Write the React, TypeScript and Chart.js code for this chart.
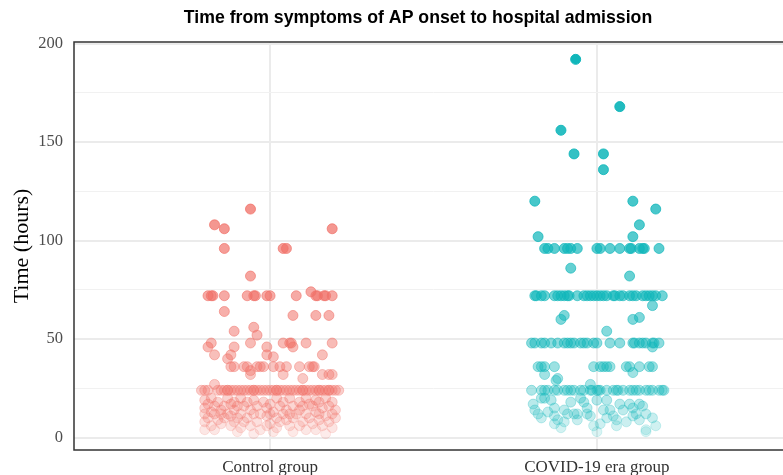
import React, { useEffect, useRef } from 'react';
import { Chart, registerables } from 'chart.js';

Chart.register(...registerables);

const titleText = 'Time from symptoms of AP onset to hospital admission';
const yAxisTitle = 'Time (hours)';
const categories = ['Control group', 'COVID-19 era group'];
const yTickValues = [0, 25, 50, 75, 100, 125, 150, 175, 200];

// Control group: time values (hours) and the horizontal jitter of each point at that value
const controlTime = [116, 108, 106, 96, 82, 74, 72, 64, 62, 56, 54, 52, 48, 46, 42, 41, 40, 36, 34, 32, 30, 27, 24,
  20, 19, 18, 17, 16, 15, 14, 13, 12, 11, 10, 9, 8, 7, 6, 5, 4, 3, 2];
const controlJitter = [
  [-0.06],
  [-0.17],
  [-0.14, 0.19],
  [-0.14, 0.04, 0.05],
  [-0.06],
  [0.125],
  [-0.19, -0.18, -0.175, -0.14, -0.07, -0.05, -0.045, -0.01, 0.0, 0.08, 0.14, 0.145, 0.165, 0.17, 0.19],
  [-0.14],
  [0.07, 0.14, 0.18],
  [-0.05],
  [-0.11],
  [-0.04],
  [-0.18, -0.06, 0.04, 0.06, 0.065, 0.11, 0.19],
  [-0.19, -0.11, -0.01, 0.07],
  [-0.17, -0.12, -0.01, 0.16],
  [0.01],
  [-0.13],
  [-0.12, -0.11, -0.08, -0.07, -0.04, -0.03, -0.02, 0.01, 0.03, 0.05, 0.09, 0.12, 0.13, 0.135],
  [-0.06],
  [-0.06, 0.04, 0.16, 0.18, 0.19],
  [0.1],
  [-0.17],
  [-0.21, -0.2, -0.19, -0.16, -0.15, -0.14, -0.13, -0.13, -0.12, -0.11, -0.1, -0.09, -0.08, -0.07, -0.06, -0.05, -0.05,
    -0.04, -0.03, -0.02, -0.01, 0.0, 0.01, 0.02, 0.02, 0.03, 0.04, 0.05, 0.06, 0.07, 0.08, 0.09, 0.1, 0.1, 0.11, 0.12,
    0.13, 0.14, 0.15, 0.15, 0.16, 0.17, 0.18, 0.18, 0.19, 0.2, 0.21],
  [-0.18, -0.09, 0.02, 0.11, 0.17, -0.13, 0.06],
  [-0.2, -0.05, 0.14],
  [-0.16, -0.11, -0.02, 0.04, 0.09, 0.15, 0.19, -0.07],
  [-0.19, -0.12, 0.0, 0.12],
  [-0.17, -0.14, -0.08, -0.04, 0.03, 0.07, 0.13, 0.18, -0.1, 0.1],
  [-0.2, -0.01, 0.16],
  [-0.15, -0.06, 0.05, 0.09, 0.2, -0.11],
  [-0.18, 0.01, 0.14],
  [-0.2, -0.17, -0.13, -0.09, -0.05, -0.03, 0.0, 0.04, 0.08, 0.11, 0.15, 0.19, -0.15, 0.06],
  [-0.12, 0.17, -0.01],
  [-0.19, -0.14, -0.07, 0.02, 0.07, 0.12, 0.2, -0.1],
  [-0.16, 0.05, 0.15],
  [-0.2, -0.11, -0.04, 0.03, 0.1, 0.18, -0.08],
  [-0.15, 0.0, 0.13],
  [-0.18, -0.12, -0.06, 0.06, 0.09, 0.16, -0.01],
  [-0.09, 0.02, 0.19],
  [-0.17, -0.03, 0.11, 0.14, -0.2],
  [-0.1, 0.07, 0.01],
  [-0.05, 0.17],
];

// COVID-19 era group
const covidTime = [192, 168, 156, 144, 136, 120, 116, 108, 102, 96, 86, 82, 72, 67, 62, 61, 60, 54, 48, 46, 36, 33, 32,
  30, 29, 27, 24, 20, 19, 18, 17, 16, 15, 14, 13, 12, 11, 10, 9, 8, 7, 6, 5, 4, 3];
const covidJitter = [
  [-0.065],
  [0.07],
  [-0.11],
  [-0.07, 0.02],
  [0.02],
  [-0.19, 0.11],
  [0.18],
  [0.13],
  [-0.18, 0.11],
  [-0.16, -0.15, -0.13, -0.1, -0.09, -0.08, -0.06, 0.0, 0.01, 0.04, 0.07, 0.1, 0.105, 0.13, 0.14, 0.145, 0.19],
  [-0.08],
  [0.1],
  [-0.19, -0.185, -0.17, -0.16, -0.13, -0.12, -0.11, -0.1, -0.09, -0.085, -0.06, -0.04, -0.03, -0.02, -0.01, 0.0,
    0.01, 0.02, 0.03, 0.05, 0.055, 0.07, 0.08, 0.1, 0.11, 0.12, 0.14, 0.15, 0.16, 0.17, 0.18, 0.2],
  [0.17],
  [-0.1],
  [0.13],
  [-0.11, 0.11],
  [0.03],
  [-0.2, -0.19, -0.17, -0.16, -0.14, -0.12, -0.1, -0.09, -0.08, -0.07, -0.05, -0.04, -0.03, -0.01, 0.0, 0.04, 0.07,
    0.11, 0.115, 0.13, 0.14, 0.15, 0.17, 0.175, 0.19],
  [0.17],
  [-0.18, -0.17, -0.16, -0.13, -0.01, 0.01, 0.02, 0.03, 0.04, 0.09, 0.1, 0.13, 0.16, 0.17],
  [0.11],
  [-0.16],
  [-0.12],
  [-0.125],
  [-0.02],
  [-0.2, -0.17, -0.16, -0.15, -0.13, -0.12, -0.1, -0.09, -0.08, -0.07, -0.05, -0.04, -0.02, -0.015, 0.0, 0.005, 0.01,
    0.03, 0.05, 0.06, 0.065, 0.08, 0.1, 0.11, 0.12, 0.13, 0.15, 0.16, 0.17, 0.19, 0.2, 0.205],
  [-0.17, -0.05, -0.16],
  [-0.14, 0.0, 0.03],
  [-0.08, -0.04],
  [-0.195, 0.07, 0.1, 0.13],
  [0.14],
  [-0.13, -0.03, 0.11],
  [-0.1, 0.02, 0.04, 0.08, -0.19],
  [-0.15],
  [-0.18, -0.06, 0.15, -0.09, -0.07, -0.03, 0.12],
  [-0.13, 0.05, -0.02, 0.11],
  [-0.17, 0.17, 0.03],
  [-0.12, -0.06, 0.06, 0.13],
  [-0.1, 0.09],
  [0.01, -0.13],
  [-0.01, 0.06, 0.18],
  [-0.11],
  [0.15],
  [0.0, 0.15],
];

const controlRGB = [240, 112, 103];
const covidRGB = [16, 182, 186];

function buildPoints(times: number[], jitters: number[][], catIndex: number) {
  const pts: { x: number; y: number }[] = [];
  times.forEach((t, i) => {
    jitters[i].forEach((j) => pts.push({ x: catIndex + j, y: t }));
  });
  return pts;
}

function alphaFor(y: number) {
  return Math.min(1, 0.08 + 0.92 * Math.pow(Math.max(0, y) / 192, 0.6));
}

function colorFn(rgb: number[]) {
  return (ctx: any) => {
    const y = ctx.raw ? ctx.raw.y : 0;
    return `rgba(${rgb[0]},${rgb[1]},${rgb[2]},${alphaFor(y).toFixed(3)})`;
  };
}

const panelBorder = {
  id: 'panelBorder',
  afterDraw(chart: any) {
    const { ctx, chartArea } = chart;
    ctx.save();
    ctx.strokeStyle = '#333333';
    ctx.lineWidth = 1.5;
    ctx.strokeRect(chartArea.left, chartArea.top, chartArea.right - chartArea.left, chartArea.bottom - chartArea.top);
    ctx.restore();
  },
};

const titleDrawer = {
  id: 'titleDrawer',
  afterDraw(chart: any) {
    const { ctx } = chart;
    ctx.save();
    ctx.fillStyle = '#000000';
    ctx.font = 'bold 17.7px "Liberation Sans", Arial, sans-serif';
    ctx.textAlign = 'center';
    ctx.textBaseline = 'middle';
    ctx.fillText(titleText, chart.width / 2, 18);
    ctx.restore();
  },
};

export default function App() {
  const canvasRef = useRef<HTMLCanvasElement | null>(null);

  useEffect(() => {
    if (!canvasRef.current) return;
    const chart = new Chart(canvasRef.current, {
      type: 'scatter',
      data: {
        datasets: [
          {
            label: categories[0],
            data: buildPoints(controlTime, controlJitter, 1),
            backgroundColor: colorFn(controlRGB),
            borderColor: colorFn(controlRGB),
            borderWidth: 1,
            pointRadius: 5,
          },
          {
            label: categories[1],
            data: buildPoints(covidTime, covidJitter, 2),
            backgroundColor: colorFn(covidRGB),
            borderColor: colorFn(covidRGB),
            borderWidth: 1,
            pointRadius: 5,
          },
        ],
      },
      options: {
        animation: false,
        responsive: false,
        maintainAspectRatio: false,
        layout: { padding: { left: 0, right: 43, top: 42, bottom: 0 } },
        plugins: {
          legend: { display: false },
          tooltip: { enabled: false },
          title: { display: false },
        },
        scales: {
          x: {
            type: 'linear',
            min: 0.4,
            max: 2.6,
            afterBuildTicks: (s: any) => {
              s.ticks = [{ value: 1 }, { value: 2 }];
            },
            afterFit: (s: any) => {
              s.height = 25;
            },
            ticks: {
              autoSkip: false,
              maxRotation: 0,
              padding: 7,
              color: '#333333',
              font: { family: '"Liberation Serif", "Times New Roman", serif', size: 17 },
              callback: (v: any) => categories[Math.round(Number(v)) - 1] ?? '',
            },
            grid: { color: '#EBEBEB', lineWidth: 2, drawTicks: false },
            border: { display: false },
          },
          y: {
            type: 'linear',
            min: -6.3,
            max: 200.8,
            afterBuildTicks: (s: any) => {
              s.ticks = yTickValues.map((v) => ({ value: v }));
            },
            afterFit: (s: any) => {
              s.width = 74;
            },
            ticks: {
              autoSkip: false,
              padding: 11,
              color: '#4D4D4D',
              font: { family: '"Liberation Serif", "Times New Roman", serif', size: 16.5 },
              callback: (v: any) => (Number(v) % 50 === 0 ? String(v) : ''),
            },
            grid: {
              color: (ctx: any) => (ctx.tick && ctx.tick.value % 50 === 0 ? '#EBEBEB' : '#F1F1F1'),
              lineWidth: (ctx: any) => (ctx.tick && ctx.tick.value % 50 === 0 ? 2 : 1),
              drawTicks: false,
            },
            border: { display: false },
            title: {
              display: true,
              text: yAxisTitle,
              color: '#000000',
              font: { family: '"Liberation Serif", "Times New Roman", serif', size: 22 },
              padding: { top: 9, bottom: 0 },
            },
          },
        },
      },
      plugins: [panelBorder, titleDrawer],
    });
    return () => chart.destroy();
  }, []);

  return (
    <div style={{ position: 'fixed', left: 0, top: 0, width: 783, height: 475, overflow: 'hidden', background: '#fff' }}>
      <canvas ref={canvasRef} width={836} height={475} style={{ display: 'block', width: 836, height: 475 }} />
    </div>
  );
}
